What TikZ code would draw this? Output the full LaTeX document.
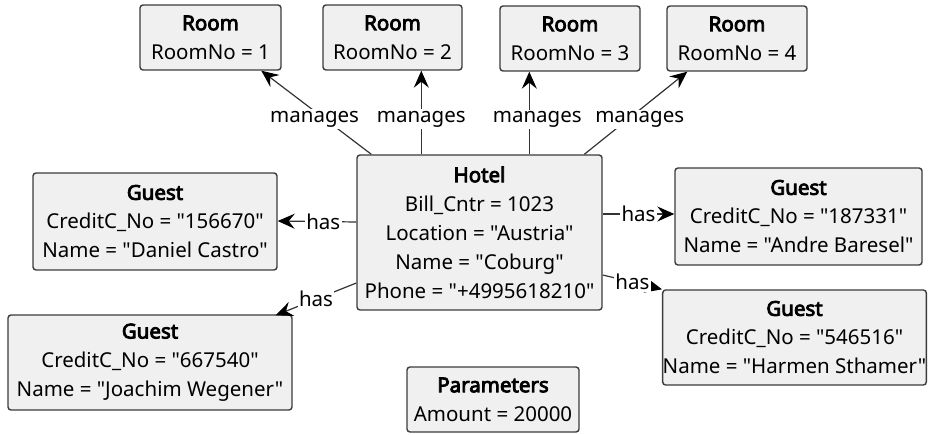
\documentclass[tikz,border=0pt]{standalone}
\usepackage{fontspec}
\setmainfont{Noto Sans}[Ligatures=TeXOff, AutoFakeBold=4]
\usetikzlibrary{arrows.meta,calc}
\definecolor{boxfill}{HTML}{F0F0F0}
\definecolor{boxline}{HTML}{3C3C3C}
\definecolor{linkline}{HTML}{333333}
\tikzset{
  obj/.style={draw=boxline, line width=1.4pt, fill=boxfill, rounded corners=3pt,
    align=center, inner sep=0pt, font=\fontsize{20.5}{29}\selectfont},
  link/.style={draw=linkline, line width=1.2pt,
    -{Stealth[length=17pt,width=15pt,inset=6pt,color=black]}},
  lbl/.style={fill=white, inner sep=1.5pt, font=\fontsize{20.5}{24}\selectfont, text=black},
  mlbl/.style={lbl, pos=0.47, yshift=-4pt}
}
\newcommand{\ttl}[1]{\textbf{#1}}
\begin{document}
\begin{tikzpicture}[x=1pt,y=-1pt]
\useasboundingbox (0,0) rectangle (928,435);

% rooms
\node[obj, minimum width=141pt, minimum height=65pt] (room1) at (210.5,37.5) {\ttl{Room}\\RoomNo = 1};
\node[obj, minimum width=139pt, minimum height=65pt] (room2) at (392.5,37.5) {\ttl{Room}\\RoomNo = 2};
\node[obj, minimum width=140pt, minimum height=65pt] (room3) at (570,38.5) {\ttl{Room}\\RoomNo = 3};
\node[obj, minimum width=140pt, minimum height=65pt] (room4) at (737,38.5) {\ttl{Room}\\RoomNo = 4};

% hotel
\node[obj, minimum width=245pt, minimum height=155pt] (hotel) at (479.5,232.5)
  {\ttl{Hotel}\\Bill\_Cntr = 1023\\Location = "Austria"\\Name = "Coburg"\\Phone = "+4995618210"};

% guests
\node[obj, minimum width=244pt, minimum height=97pt] (guest1) at (155,221.5)
  {\ttl{Guest}\\CreditC\_No = "156670"\\Name = "Daniel Castro"};
\node[obj, minimum width=247pt, minimum height=97pt] (guest2) at (798.5,216.5)
  {\ttl{Guest}\\CreditC\_No = "187331"\\Name = "Andre Baresel"};
\node[obj, minimum width=284pt, minimum height=95pt] (guest3) at (150,362.5)
  {\ttl{Guest}\\CreditC\_No = "667540"\\Name = "Joachim Wegener"};
\node[obj, minimum width=263pt, minimum height=95pt] (guest4) at (794.5,337.5)
  {\ttl{Guest}\\CreditC\_No = "546516"\\Name = "Harmen Sthamer"};

% parameters
\node[obj, minimum width=172pt, minimum height=65pt] (params) at (493,399.5)
  {\ttl{Parameters}\\Amount = 20000};

% manages links
\draw[link] ([xshift=15pt]hotel.north west) -- node[mlbl, xshift=-5pt]{manages} ([xshift=122pt]room1.south west);
\draw[link] ([xshift=65pt]hotel.north west) -- node[mlbl]{manages} ([xshift=99pt]room2.south west);
\draw[link] ([xshift=173pt]hotel.north west) -- node[mlbl, xshift=8pt]{manages} ([xshift=30pt]room3.south west);
\draw[link] ([xshift=228pt]hotel.north west) -- node[mlbl, xshift=7pt]{manages} ([xshift=21pt]room4.south west);

% has links
\draw[link] ([yshift=10.5pt]hotel.west) -- node[lbl, pos=0.42]{has} ([yshift=0.5pt]guest1.east);
\draw[link] ([yshift=18.5pt]hotel.east) -- node[lbl, pos=0.5]{has} ([yshift=2.5pt]guest2.west);
\draw[link] ([yshift=-50.5pt]hotel.west) -- node[lbl, pos=0.5]{has} ([xshift=-17pt,yshift=-1pt]guest3.north east);
\draw[link] ([yshift=-42.5pt]hotel.east) -- node[lbl, pos=0.5]{has} (guest4.north west);
\end{tikzpicture}
\end{document}
